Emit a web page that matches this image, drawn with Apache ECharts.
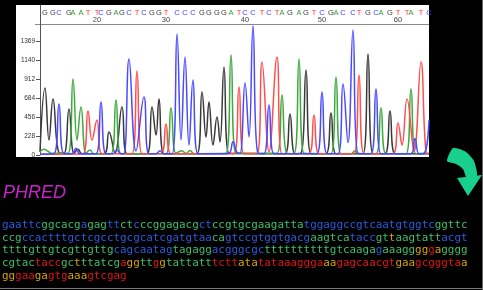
<!DOCTYPE html>
<html><head><meta charset="utf-8">
<script src="https://cdn.jsdelivr.net/npm/echarts@6/dist/echarts.min.js"></script>
<style>html,body{margin:0;padding:0;background:#000}#c{width:483px;height:290px}</style>
</head><body><div id="c"></div>
<script>
// ---- base calls (positions 13..64) and their scan positions ----
const firstBase = 13;
const baseCalls = 'GGCGAATTCGAGCTCGGTCCCGGGGATCCTCTAGAGTCGACCTGCAGTTATC';
const basePos = [5,13,19,29,33,41,48,57,61,69,76,82,89,97,104,112,119,126,137,145,153,162,169,177,184,191,199,205,213,222,229,237,242,250,259,266,274,282,291,296,303,313,319,328,336,341,350,358,367,371,381,389];
const baseNumbers = [20,30,40,50,60];
const yTickLabels = ['0','228','456','684','912','1140','1369'];
const yStep = 1369/6;
const yMax = 1568;
const scanMax = 389;

// ---- trace channels: [scan, intensity] read at peaks and valleys ----
const traceG = [[0,40],[5,808],[9,180],[13,675],[19,30],[24,20],[29,555],[34,20],[38,70],[42,15],[64,15],[69,277],[75,25],[82,579],[87,15],[107,15],[112,579],[116,240],[119,675],[124,15],[157,15],[162,760],[166,217],[169,639],[173,120],[177,458],[180,157],[184,1061],[189,20],[245,15],[250,494],[255,15],[261,20],[266,1025],[271,15],[286,15],[291,506],[296,15],[323,15],[328,1218],[333,15],[345,15],[350,531],[355,15],[389,15]];
const traceC = [[0,10],[14,15],[19,615],[24,15],[32,15],[36,80],[40,15],[56,15],[61,639],[66,15],[73,15],[77,60],[81,15],[84,15],[89,1158],[96,50],[104,700],[109,15],[116,15],[120,50],[124,15],[132,15],[137,1459],[141,180],[145,1182],[149,120],[153,905],[158,15],[188,15],[193,160],[197,30],[200,20],[205,868],[209,217],[213,1560],[218,20],[224,15],[229,603],[234,15],[277,15],[282,760],[287,15],[298,15],[303,856],[308,150],[313,1507],[318,20],[331,15],[336,796],[341,15],[371,15],[375,200],[379,15],[384,20],[389,420]];
const traceA = [[0,40],[4,70],[8,45],[12,20],[28,20],[33,917],[37,180],[41,579],[46,20],[50,60],[54,15],[71,15],[76,663],[81,15],[126,15],[131,567],[136,20],[142,50],[146,20],[150,55],[154,15],[186,20],[191,1206],[196,20],[237,20],[242,724],[247,20],[254,15],[259,1158],[264,20],[291,15],[296,941],[301,15],[311,15],[315,50],[319,15],[336,15],[341,567],[346,15],[366,15],[371,796],[376,15],[389,20]];
const traceT = [[0,10],[43,15],[48,531],[52,180],[57,422],[62,15],[92,15],[97,1013],[102,15],[121,15],[126,374],[131,15],[194,15],[199,820],[204,15],[217,15],[222,1122],[229,40],[237,1182],[242,15],[269,15],[274,482],[279,15],[314,15],[319,965],[324,15],[353,15],[358,386],[362,120],[367,675],[374,40],[381,1122],[386,30],[389,15]];

// ---- PHRED output sequence and per-base quality class ----
const seqLines = [
  'gaattcggcacgagagttctcccggagacgctccgtgcgaagattatggaggccgtcaatgtggtcggttc',
  'ccgccactttgctcgcctgcgcatcgatgtaacagtccgtggtgacgaagtcataccgttaagtattacgt',
  'ttttgttgtcgttgttgcagcaatagtagaggacgggcgcttttttttttgtcaagagaaagggggagggg',
  'cgtactaccgctttatcgaggttggtattatttcttatatataaagggaaagagcaacgtgaagcgggtaa',
  'gggaagagtgaaagtcgag'
];
const qualRuns = [
  [['b',6],['g',6],['b',1],['g',3],['b',2],['g',2],['b',1],['g',9],['b',2],['g',5],['g',9],['b',20],['g',5]],
  [['g',3],['b',29],['g',2],['b',3],['b',10],['g',6],['b',4],['g',2],['y',1],['g',7],['b',4]],
  [['g',17],['b',9],['g',6],['b',5],['b',3],['g',17],['b',1],['g',5],['y',2],['r',1],['y',1],['g',4]],
  [['g',5],['r',4],['g',2],['y',1],['g',6],['r',1],['y',2],['g',2],['r',1],['y',1],['g',7],['r',4],['y',3],['r',10],['y',2],['r',9],['y',3],['r',7],['y',1]],
  [['y',2],['r',3],['y',2],['r',3],['y',3],['r',6]]
];

const baseColor = {G:'#3a3a3a', A:'#2f9e2f', C:'#3b3bff', T:'#ff3535'};
const traceColor = {G:'#3a3a3a', A:'#3eaa3e', C:'#4a4aff', T:'#ff5050'};
const qualColor = {b:'#2b5bdc', g:'#3cbf6a', y:'#d6a400', r:'#e01212'};

const chart = echarts.init(document.getElementById('c'), null, {renderer:'canvas'});

const letterRich = {};
Object.keys(baseColor).forEach(k => { letterRich[k] = {color: baseColor[k], fontSize: 7.5, fontFamily: 'Liberation Sans'}; });

function richLine(seq, runs) {
  let out = '', p = 0;
  runs.forEach(([q, n]) => { out += '{' + q + '|' + seq.slice(p, p + n) + '}'; p += n; });
  if (p < seq.length) out += '{g|' + seq.slice(p) + '}';
  return out;
}
const seqFont = '10.9px "DejaVu Sans Mono"';
const seqRich = {};
Object.keys(qualColor).forEach(k => { seqRich[k] = {fill: qualColor[k], font: seqFont}; });

const graphics = [
  {type:'rect', z:-10, shape:{x:16, y:5, width:413, height:152}, style:{fill:'#ffffff'}},
  {type:'line', z:5, shape:{x1:35, y1:24.5, x2:429, y2:24.5}, style:{stroke:'#8a8a8a', lineWidth:1}},
  {type:'line', z:5, shape:{x1:40.5, y1:5, x2:40.5, y2:25}, style:{stroke:'#555', lineWidth:1}},
  {type:'text', style:{text:'PHRED', x:3, y:193, fill:'#cc22cc', font:'italic 18px "Liberation Sans"', verticalAlign:'middle'}},
  {type:'polygon', shape:{points:[[453,148],[466,152],[474,161],[477,176],[467,178],[463,169],[456,164],[447,161]], smooth:0.2}, style:{fill:'#19cf8d'}},
  {type:'polygon', shape:{points:[[457,178],[482,175],[468,196]]}, style:{fill:'#19cf8d'}},
  {type:'line', shape:{x1:482.5, y1:0, x2:482.5, y2:290}, style:{stroke:'#666', lineWidth:1}},
  {type:'line', shape:{x1:0, y1:288.5, x2:483, y2:288.5}, style:{stroke:'#777', lineWidth:1}}
];
seqLines.forEach((s, i) => {
  graphics.push({type:'text', style:{text: richLine(s, qualRuns[i]), rich: seqRich, font: seqFont, x: 2, y: 225 + i * 12.8, verticalAlign:'middle', fill:'#3cbf6a'}});
});

function mkSeries(data, key) {
  return {type:'line', data, smooth:0.45, symbol:'none', clip:true,
    lineStyle:{color: traceColor[key], width:1.5}, itemStyle:{color: traceColor[key]}};
}

chart.setOption({
  backgroundColor:'#000',
  animation:false,
  grid:{left:40, top:25, width:389, height:130, containLabel:false},
  xAxis:[
    {type:'value', position:'top', min:0, max:scanMax,
      axisLine:{show:false}, axisTick:{show:false}, splitLine:{show:false},
      axisLabel:{customValues: basePos, margin:8,
        formatter: v => { const i = basePos.indexOf(v); const b = baseCalls[i]; return '{' + b + '|' + b + '}'; },
        rich: letterRich}},
    {type:'value', position:'top', min:0, max:scanMax,
      axisLine:{show:false}, axisTick:{show:false}, splitLine:{show:false},
      axisLabel:{customValues: baseNumbers.map(n => basePos[n - firstBase]), margin:1, color:'#444', fontSize:7.5, fontFamily:'Liberation Sans',
        formatter: v => String(baseNumbers[baseNumbers.map(n => basePos[n - firstBase]).indexOf(v)])}}
  ],
  yAxis:{type:'value', min:0, max:yMax, interval:yStep,
    axisLine:{show:true, lineStyle:{color:'#555', width:1}},
    axisTick:{show:true, length:4, lineStyle:{color:'#555'}},
    splitLine:{show:false},
    axisLabel:{showMaxLabel:false, margin:5, color:'#333', fontSize:6.5, fontFamily:'Liberation Sans',
      formatter: v => { const i = Math.round(v / yStep); return (Math.abs(v - i * yStep) < 1 && i < yTickLabels.length) ? yTickLabels[i] : ''; }}},
  series:[mkSeries(traceG,'G'), mkSeries(traceA,'A'), mkSeries(traceT,'T'), mkSeries(traceC,'C')],
  graphic:{elements: graphics}
});
</script></body></html>
